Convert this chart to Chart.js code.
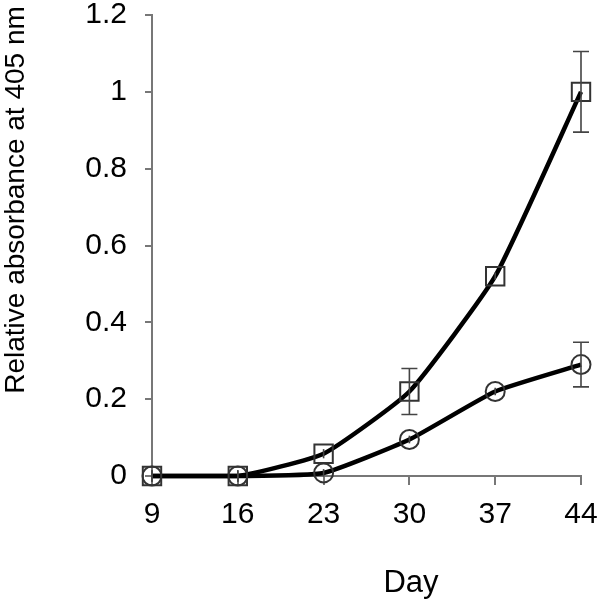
<!DOCTYPE html>
<html>
<head>
<meta charset="utf-8">
<script src="https://cdn.jsdelivr.net/npm/chart.js@4/dist/chart.umd.min.js"></script>
<style>
html,body{margin:0;padding:0;background:#fff;}
#wrap{width:601px;height:608px;}
</style>
</head>
<body>
<div id="wrap"><canvas id="c" width="601" height="608"></canvas></div>
<script>
const days = ['9', '16', '23', '30', '37', '44'];
const squareValues = [0, 0, 0.058, 0.22, 0.52, 1.0];
const squareErrors = [0.015, 0.015, 0.012, 0.06, 0.01, 0.105];
const circleValues = [0, 0, 0.008, 0.095, 0.22, 0.29];
const circleErrors = [0.015, 0.015, 0.01, 0.01, 0.01, 0.058];
const yTicks = [0, 0.2, 0.4, 0.6, 0.8, 1, 1.2];
const xTitle = 'Day';
const yTitle = 'Relative absorbance at 405 nm';

const FONT = '"Liberation Sans", Arial, Helvetica, sans-serif';

const errorBars = {
  id: 'errorBars',
  afterDatasetsDraw(chart) {
    const ctx = chart.ctx;
    const xs = chart.scales.x, ys = chart.scales.y;
    ctx.save();
    ctx.strokeStyle = '#444';
    ctx.lineWidth = 1.6;
    chart.data.datasets.forEach(ds => {
      ds.values.forEach((v, i) => {
        const e = ds.errors[i];
        const x = xs.getPixelForValue(i);
        const yt = ys.getPixelForValue(v + e);
        const yb = ys.getPixelForValue(v - e);
        ctx.beginPath();
        ctx.moveTo(x, yt); ctx.lineTo(x, yb);
        if (e > 0.03) {
          ctx.moveTo(x - 8, yt); ctx.lineTo(x + 8, yt);
          ctx.moveTo(x - 8, yb); ctx.lineTo(x + 8, yb);
        }
        ctx.stroke();
      });
    });
    ctx.restore();
  }
};

const titles = {
  id: 'titles',
  afterDraw(chart) {
    const ctx = chart.ctx;
    ctx.save();
    ctx.fillStyle = '#000';
    ctx.font = '31px ' + FONT;
    ctx.textAlign = 'center';
    ctx.textBaseline = 'middle';
    ctx.fillText(xTitle, 411, 583);
    ctx.translate(16, 200);
    ctx.rotate(-Math.PI / 2);
    ctx.font = '28px ' + FONT;
    ctx.fillText(yTitle, 0, 0);
    ctx.restore();
  }
};

new Chart(document.getElementById('c'), {
  type: 'line',
  data: {
    labels: days,
    datasets: [
      {
        data: squareValues, values: squareValues, errors: squareErrors,
        borderColor: '#000', borderWidth: 4.5,
        pointStyle: 'rect', pointRadius: 13, pointBorderWidth: 2,
        pointBorderColor: '#333', pointBackgroundColor: 'rgba(0,0,0,0)',
        tension: 0.15, fill: false
      },
      {
        data: circleValues, values: circleValues, errors: circleErrors,
        borderColor: '#000', borderWidth: 4.5,
        pointStyle: 'circle', pointRadius: 9.5, pointBorderWidth: 2,
        pointBorderColor: '#333', pointBackgroundColor: 'rgba(0,0,0,0)',
        tension: 0.15, fill: false
      }
    ]
  },
  options: {
    responsive: false,
    animation: false,
    clip: false,
    layout: { padding: { top: 0, right: 20, left: 0, bottom: 0 } },
    plugins: { legend: { display: false }, tooltip: { enabled: false } },
    scales: {
      x: {
        offset: false,
        grid: { drawOnChartArea: false, drawTicks: true, tickLength: 9, color: '#777', lineWidth: 2 },
        border: { display: true, color: '#777', width: 2 },
        ticks: { color: '#000', font: { family: FONT, size: 30 }, padding: 12, maxRotation: 0 },
        afterFit(s) { s.height = 132; s.paddingLeft = 0; s.paddingRight = 0; }
      },
      y: {
        min: 0, max: 1.2,
        afterBuildTicks(s) { s.ticks = yTicks.map(v => ({ value: v })); },
        grid: { drawOnChartArea: false, drawTicks: true, tickLength: 7, color: '#777', lineWidth: 2 },
        border: { display: true, color: '#777', width: 2 },
        ticks: { color: '#000', font: { family: FONT, size: 30 }, padding: 18,
          callback: v => String(v) },
        afterFit(s) { s.width = 152; s.paddingTop = 14; s.paddingBottom = 0; }
      }
    }
  },
  plugins: [errorBars, titles]
});
</script>
</body>
</html>
